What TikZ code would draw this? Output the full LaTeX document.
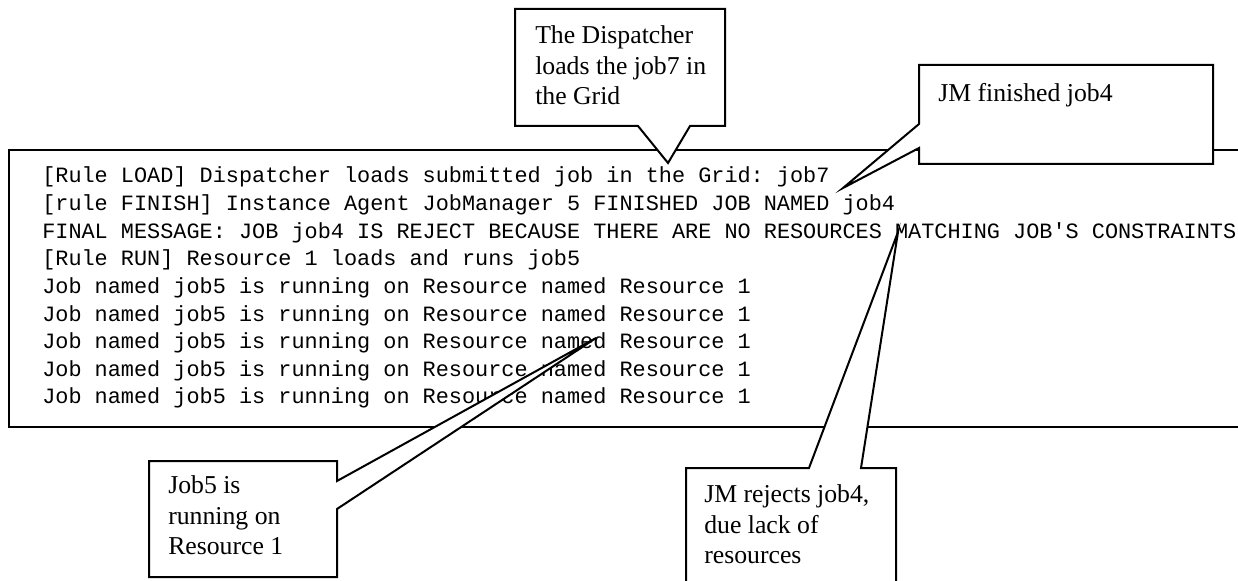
\documentclass[tikz,border=0pt]{standalone}
\usepackage{fontspec}
\setmainfont{Liberation Serif}
\setmonofont{Liberation Mono}
\tikzset{frame/.style = {draw, line width=1.5pt},
         note/.style = {draw, fill=white, line width=1.5pt, line join=miter},
         notetext/.style = {anchor=north west, inner sep=0pt, align=left, font=\fontsize{19.3}{23}\selectfont},
         logline/.style = {anchor=base west, inner sep=0pt, font=\ttfamily\fontsize{16.4}{20}\selectfont}}

\begin{document}
\begin{tikzpicture}[x=0.75pt,y=-0.75pt]
        \useasboundingbox (0,0) rectangle (1238,581);
        \clip (0,0) rectangle (1238,581);

        % log window
        \draw[frame](9,150) rectangle (1290,427);
        \node[logline] (l1) at (42,183) {[Rule LOAD] Dispatcher loads submitted job in the Grid: job7};
        \node[logline] (l2) at (42,210.6) {[rule FINISH] Instance Agent JobManager 5 FINISHED JOB NAMED job4};
        \node[logline] (l3) at (42,238.2) {FINAL MESSAGE: JOB job4 IS REJECT BECAUSE THERE ARE NO RESOURCES MATCHING JOB'S CONSTRAINTS};
        \node[logline] (l4) at (42,265.8) {[Rule RUN] Resource 1 loads and runs job5};
        \foreach \i in {5,...,9}
            \node[logline] (l\i) at (42,{183+27.6*(\i-1)}) {Job named job5 is running on Resource named Resource 1};

        % callouts
        \coordinate (tipload) at (668,163);
        \coordinate (tipfinish) at (843,188);
        \coordinate (tiprun) at (596,338);
        \coordinate (tipreject) at (898,232);

        \draw[note](515,9)--(725,9)--(725,126)--(690,126)--(tipload)--(638,126)--(515,126)--cycle;
        \node[notetext] (loadtext) at (535,25.4) {The Dispatcher\\loads the job7 in\\the Grid};

        \draw[note](919,65)--(1213,65)--(1213,164)--(919,164)--(919,148)--(tipfinish)--(919,124)--cycle;
        \node[notetext] (finishtext) at (938,83.4) {JM finished job4};

        \draw[note](149,461)--(337,461)--(337,481)--(tiprun)--(337,509)--(337,577)--(149,577)--cycle;
        \node[notetext] (runtext) at (168,475.4) {Job5 is\\running on\\Resource 1};

        \draw[note](686,468)--(809,468)--(tipreject)--(861,468)--(896,468)--(896,620)--(686,620)--cycle;
        \node[notetext] (rejecttext) at (704,484.4) {JM rejects job4,\\due lack of\\resources};
    \end{tikzpicture}
\end{document}
